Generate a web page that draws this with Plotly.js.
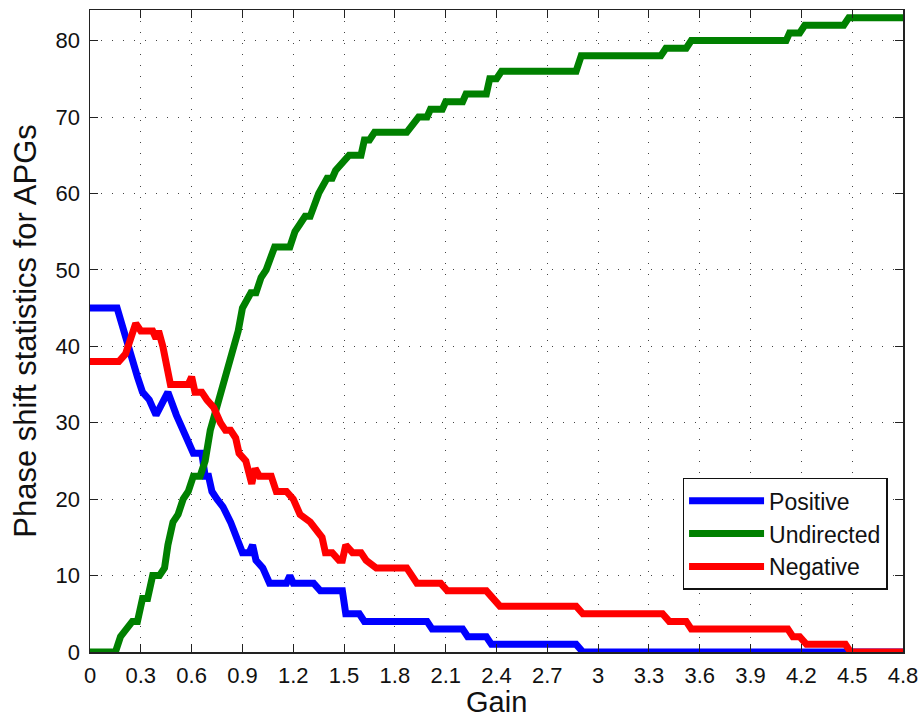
<!DOCTYPE html>
<html>
<head>
<meta charset="utf-8">
<script src="https://cdn.plot.ly/plotly-3.0.1.min.js"></script>
<style>html,body{margin:0;padding:0;background:#fff}#chart{width:922px;height:721px}</style>
</head>
<body>
<div id="chart"></div>
<script>
// Positive
const posX = [0,0.16,0.2,0.235,0.28,0.31,0.35,0.39,0.46,0.51,0.55,0.59,0.61,0.66,0.68,0.7,0.72,0.75,0.785,0.83,0.87,0.9,0.94,0.96,0.98,1.02,1.06,1.16,1.18,1.2,1.32,1.36,1.49,1.51,1.59,1.62,1.99,2.02,2.2,2.23,2.34,2.37,2.87,2.91,4.8];
const posY = [45,45,42,39,36,34,33,31,34,31,29,27,26,26,23,23,21,20,19,17,15,13,13,14,12,11,9,9,10,9,9,8,8,5,5,4,4,3,3,2,2,1,1,0,0];
// Undirected
const undX = [0,0.15,0.18,0.22,0.25,0.28,0.31,0.34,0.37,0.41,0.44,0.46,0.49,0.52,0.55,0.58,0.61,0.65,0.68,0.71,0.75,0.79,0.83,0.845,0.875,0.9,0.95,0.98,1.01,1.04,1.06,1.09,1.18,1.21,1.24,1.27,1.3,1.35,1.4,1.43,1.45,1.49,1.53,1.6,1.62,1.65,1.68,1.87,1.9,1.94,1.99,2.01,2.08,2.1,2.2,2.22,2.34,2.36,2.4,2.43,2.87,2.9,3.37,3.4,3.52,3.55,4.11,4.13,4.19,4.22,4.45,4.48,4.8];
const undY = [0,0,2,3,4,4,7,7,10,10,11,14,17,18,20,21,23,23,25,29,32,35,38,39,42,45,47,47,49,50,51,53,53,55,56,57,57,60,62,62,63,64,65,65,67,67,68,68,69,70,70,71,71,72,72,73,73,75,75,76,76,78,78,79,79,80,80,81,81,82,82,83,83];
// Negative
const negX = [0,0.17,0.21,0.24,0.27,0.3,0.37,0.39,0.405,0.43,0.45,0.475,0.58,0.6,0.62,0.66,0.69,0.73,0.77,0.8,0.83,0.86,0.88,0.92,0.955,0.975,1.0,1.07,1.1,1.16,1.2,1.24,1.3,1.34,1.37,1.39,1.43,1.47,1.49,1.51,1.55,1.6,1.63,1.69,1.87,1.93,2.07,2.11,2.34,2.42,2.87,2.91,3.38,3.42,3.52,3.55,4.12,4.15,4.19,4.23,4.46,4.49,4.8];
const negY = [38,38,39,41,43,42,42,41,42,40,38,35,35,36,34,34,33,32,30,29,29,28,26,25,22,24,23,23,21,21,20,18,17,16,15,13,13,12,12,14,13,13,12,11,11,9,9,8,8,6,6,5,5,4,4,3,3,2,2,1,1,0,0];

const seriesNames = ['Positive','Undirected','Negative'];
const xTicks = [0,0.3,0.6,0.9,1.2,1.5,1.8,2.1,2.4,2.7,3,3.3,3.6,3.9,4.2,4.5,4.8];
const xTickText = ['0','0.3','0.6','0.9','1.2','1.5','1.8','2.1','2.4','2.7','3','3.3','3.6','3.9','4.2','4.5','4.8'];
const yTicks = [0,10,20,30,40,50,60,70,80];
const xTitle = 'Gain';
const yTitle = 'Phase shift statistics for APGs';

const FONT = 'Liberation Sans, Arial, sans-serif';
const mk = (x,y,name,color) => ({x, y, name, type:'scatter', mode:'lines',
  line:{color, width:7, shape:'linear'}});

const data = [
  mk(posX,posY,seriesNames[0],'#0000ff'),
  mk(undX,undY,seriesNames[1],'#008000'),
  mk(negX,negY,seriesNames[2],'#ff0000')
];

const axisCommon = {
  showline:true, mirror:'ticks', linecolor:'#222', linewidth:1.5,
  ticks:'inside', ticklen:8, tickwidth:1, tickcolor:'#222',
  showgrid:true, gridcolor:'#444', gridwidth:1, griddash:'1px,10px',
  zeroline:false, tickfont:{family:FONT, size:22, color:'#111'}
};

const layout = {
  width:922, height:721,
  margin:{l:90, r:19, t:10, b:69},
  paper_bgcolor:'#fff', plot_bgcolor:'#fff',
  font:{family:FONT, color:'#111'},
  showlegend:true,
  legend:{x:0.981, y:0.097, xanchor:'right', yanchor:'bottom',
    bgcolor:'#fff', bordercolor:'#111', borderwidth:1.5,
    font:{family:FONT, size:23, color:'#111'}, itemwidth:75, tracegroupgap:0},
  xaxis:Object.assign({}, axisCommon, {
    range:[0,4.8], tickmode:'array', tickvals:xTicks, ticktext:xTickText,
    ticklabelstandoff:3
  }),
  yaxis:Object.assign({}, axisCommon, {
    range:[0,84], tickmode:'array', tickvals:yTicks,
    ticklabelstandoff:4,
    title:{text:yTitle, font:{family:FONT, size:31, color:'#111'}, standoff:10}
  }),
  annotations:[{
    text:xTitle, xref:'paper', yref:'paper', x:0.5, y:-0.104,
    xanchor:'center', yanchor:'bottom', showarrow:false, borderpad:0,
    font:{family:FONT, size:29, color:'#111'}
  }]
};

Plotly.newPlot('chart', data, layout, {displayModeBar:false, staticPlot:true});
</script>
</body>
</html>
